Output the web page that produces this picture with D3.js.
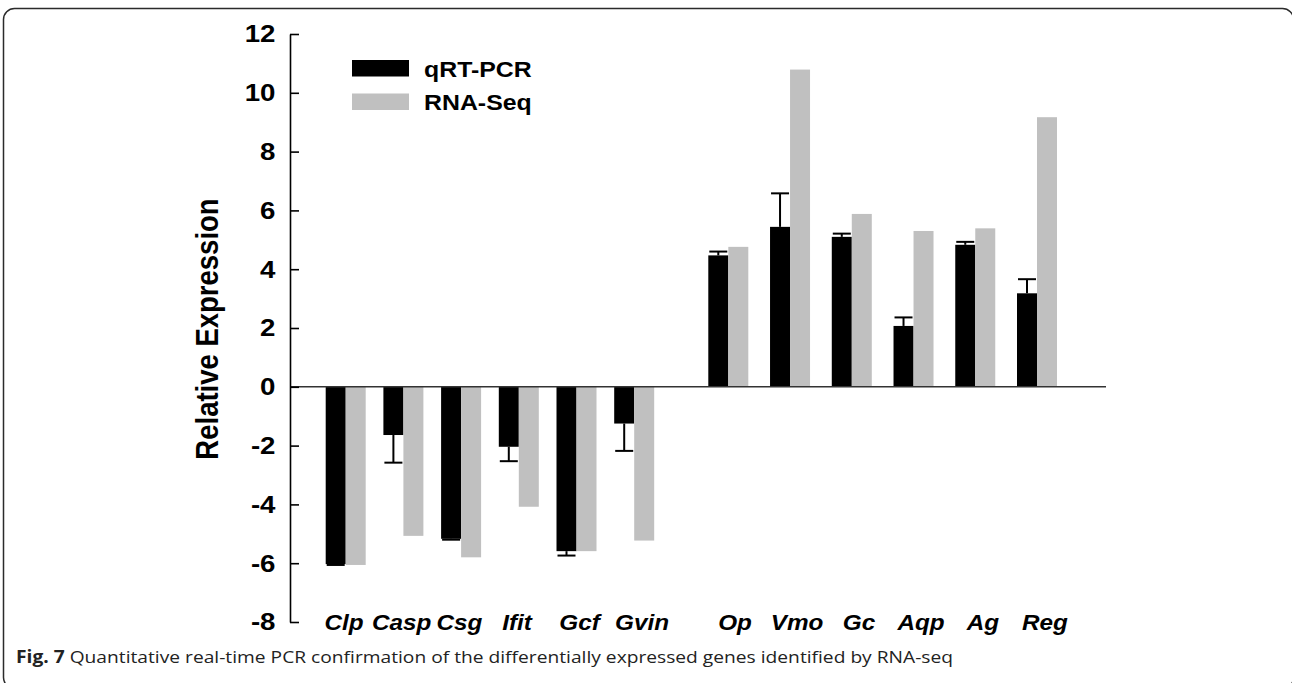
<!DOCTYPE html>
<html>
<head>
<meta charset="utf-8">
<script src="https://cdn.jsdelivr.net/npm/d3@7"></script>
<style>
  html, body { margin: 0; padding: 0; background: #fff; }
  svg { display: block; }
</style>
</head>
<body>
<svg id="chart" width="1292" height="683"></svg>
<script>
// ---- data ----
const genes = ["Clp", "Casp", "Csg", "Ifit", "Gcf", "Gvin", "Op", "Vmo", "Gc", "Aqp", "Ag", "Reg"];
const qpcr = [-6.03, -1.64, -5.17, -2.04, -5.59, -1.25, 4.47, 5.44, 5.10, 2.07, 4.83, 3.18];
const qpcrErr = [0.03, 0.94, 0.03, 0.49, 0.15, 0.93, 0.13, 1.14, 0.11, 0.29, 0.10, 0.48];
const rnaseq = [-6.06, -5.07, -5.80, -4.08, -5.59, -5.23, 4.76, 10.79, 5.88, 5.30, 5.39, 9.17];
const yTicks = [-8, -6, -4, -2, 0, 2, 4, 6, 8, 10, 12];
const seriesNames = ["qRT-PCR", "RNA-Seq"];
const caption = ["Fig. 7", " Quantitative real-time PCR confirmation of the differentially expressed genes identified by RNA-seq"];

// ---- layout ----
const svg = d3.select("#chart");
const colors = ["#000000", "#c0c0c0"];
const axisX = 290;
const zeroLineEnd = 1106;
const barW = 20;
const sx = 1.13; // horizontal stretch of the original figure's text
const arial = "Liberation Sans, Arial, sans-serif";

// frame
svg.append("rect")
  .attr("x", 3.5).attr("y", 8.5)
  .attr("width", 1290).attr("height", 680)
  .attr("rx", 11).attr("ry", 11)
  .attr("fill", "none").attr("stroke", "#2b2b2b").attr("stroke-width", 1.5);

const y = d3.scaleLinear().domain([-8, 12]).range([622, 34]);
// two panels of genes with slightly different spacing (piecewise linear index scale)
const idx = d3.range(genes.length);
const xc = d3.scaleLinear().domain([0, 5, 6, 11]).range([345.7, 634.2, 728.3, 1037]);
const xl = d3.scaleLinear().domain([0, 3, 5, 6, 11]).range([344, 517, 642, 735, 1045]);

// bars
const g = svg.append("g");
g.selectAll("rect.q").data(idx).join("rect")
  .attr("class", "q")
  .attr("x", i => xc(i) - barW)
  .attr("width", barW)
  .attr("y", i => Math.min(y(0), y(qpcr[i])))
  .attr("height", i => Math.abs(y(qpcr[i]) - y(0)))
  .attr("fill", colors[0]);

g.selectAll("rect.r").data(idx).join("rect")
  .attr("class", "r")
  .attr("x", i => xc(i))
  .attr("width", barW)
  .attr("y", i => Math.min(y(0), y(rnaseq[i])))
  .attr("height", i => Math.abs(y(rnaseq[i]) - y(0)))
  .attr("fill", colors[1]);

// error bars (away from zero)
const eb = g.selectAll("g.eb").data(idx).join("g").attr("class", "eb");
const errEnd = i => qpcr[i] + Math.sign(qpcr[i]) * qpcrErr[i];
eb.append("line")
  .attr("x1", i => xc(i) - barW / 2).attr("x2", i => xc(i) - barW / 2)
  .attr("y1", i => y(qpcr[i])).attr("y2", i => y(errEnd(i)))
  .attr("stroke", "#000").attr("stroke-width", 2);
eb.append("line")
  .attr("x1", i => xc(i) - barW / 2 - 9).attr("x2", i => xc(i) - barW / 2 + 9)
  .attr("y1", i => y(errEnd(i))).attr("y2", i => y(errEnd(i)))
  .attr("stroke", "#000").attr("stroke-width", 2);

// zero line
svg.append("line")
  .attr("x1", axisX).attr("x2", zeroLineEnd)
  .attr("y1", y(0)).attr("y2", y(0))
  .attr("stroke", "#333").attr("stroke-width", 1.6);

// y axis
const yAxis = d3.axisLeft(y).tickValues(yTicks).tickFormat(d => String(d))
  .tickSizeInner(-9).tickSizeOuter(0).tickPadding(14);
const ya = svg.append("g").attr("transform", `translate(${axisX},0)`).call(yAxis);
ya.selectAll("path, line").attr("stroke", "#000").attr("stroke-width", 1.6);
ya.selectAll("text")
  .attr("x", -14.5 / sx)
  .attr("transform", `scale(${sx},1)`)
  .attr("font-family", arial)
  .attr("font-weight", "bold").attr("font-size", 24.5).attr("fill", "#000");

// y title
svg.append("text")
  .attr("transform", `translate(218,329) scale(${sx},1) rotate(-90)`)
  .attr("text-anchor", "middle")
  .attr("font-family", arial)
  .attr("font-weight", "bold").attr("font-size", 27.5)
  .text("Relative Expression");

// x labels
svg.append("g").selectAll("text").data(idx).join("text")
  .attr("transform", i => `translate(${xl(i)},630) scale(${sx},1)`)
  .attr("text-anchor", "middle")
  .attr("font-family", arial)
  .attr("font-weight", "bold").attr("font-style", "italic").attr("font-size", 21.5)
  .text(i => genes[i]);

// legend
const lg = svg.append("g");
seriesNames.forEach((name, k) => {
  lg.append("rect").attr("x", 352).attr("y", 60 + k * 33.5).attr("width", 57).attr("height", 16.5).attr("fill", colors[k]);
  lg.append("text").attr("transform", `translate(424,${77.3 + k * 32.7}) scale(${sx},1)`)
    .attr("font-family", arial)
    .attr("font-weight", "bold").attr("font-size", 22)
    .text(name);
});

// caption
const cap = svg.append("text").attr("transform", `translate(16,663) scale(${sx},1)`)
  .attr("font-family", "Open Sans, sans-serif").attr("font-size", 17).attr("fill", "#222");
cap.append("tspan").attr("font-weight", "bold").text(caption[0]);
cap.append("tspan").text(caption[1]);
</script>
</body>
</html>
